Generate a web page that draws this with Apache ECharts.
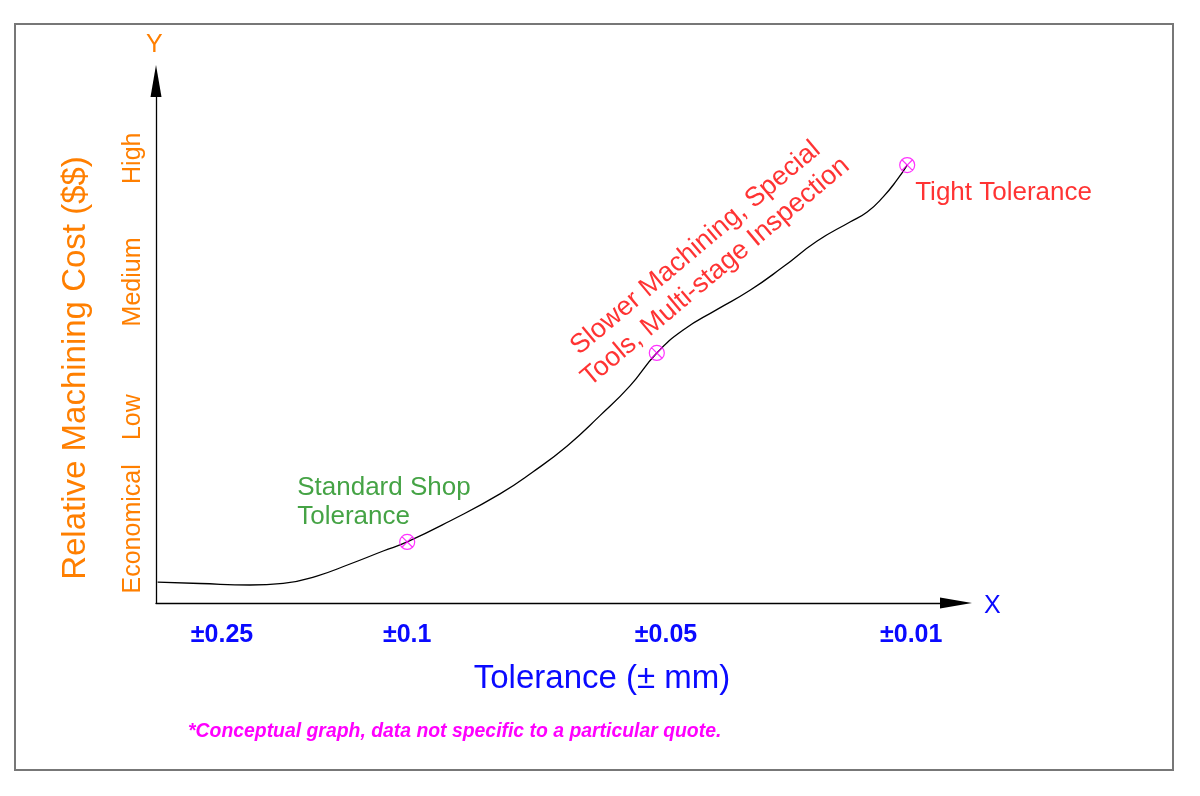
<!DOCTYPE html>
<html>
<head>
<meta charset="utf-8">
<title>Relative Machining Cost vs Tolerance</title>
<style>html, body {margin: 0; padding: 0; background: #fff;}</style>
<script src="https://cdn.jsdelivr.net/npm/echarts@6/dist/echarts.min.js"></script>
</head>
<body>
<div id="main" style="width: 1200px; height: 796px;"></div>
<script type="text/javascript">
// tick positions on a 0-100 conceptual scale
var xTickValues = [8.25, 31.4, 63.75, 94.4];
var xTickLabels = ['±0.25', '±0.1', '±0.05', '±0.01'];
var yTickValues = [14.2, 35.6, 61.5, 85.2];
var yTickLabels = ['Economical', 'Low', 'Medium', 'High'];

// cost curve
var curveX = [0.2, 5.5, 11.75, 15.9, 20.1, 24.25, 28.4, 31.4, 36.75, 43.0, 47.1, 51.4, 55.5, 59.25, 62.6,
  65.9, 70.1, 74.25, 78.4, 82.6, 86.75, 88.9, 90.9, 92.6, 93.9];
var curveY = [4.0, 3.74, 3.45, 3.74, 5.17, 7.47, 9.96, 11.7, 15.71, 20.9, 25.1, 30.1, 35.9, 41.6, 47.9,
  52.3, 56.2, 59.9, 64.4, 69.3, 73.0, 74.9, 77.8, 81.0, 83.9];

// highlighted points
var markerX = [31.4, 62.6, 93.9];
var markerY = [11.7, 47.9, 83.9];
var markerNames = ['Standard Shop\nTolerance', 'Slower Machining, Special\nTools, Multi-stage Inspection', 'Tight Tolerance'];

var font = "'Liberation Sans', Arial, sans-serif";
var orange = '#ff7f00';
var blue = '#0a0aff';

var markerLabels = [
  {color: '#168c16', fontSize: 26, lineHeight: 29, align: 'left', verticalAlign: 'middle', offset: [-110, -40]},
  {color: '#ff0000', fontSize: 27, lineHeight: 31, align: 'center', verticalAlign: 'middle', rotate: 40, offset: [97, -40]},
  {color: '#ff0000', fontSize: 26, align: 'left', verticalAlign: 'middle', offset: [8, 28]}
];

var crossCircle = 'path://M0,10 A10,10 0 1,1 20,10 A10,10 0 1,1 0,10 Z M2.9,2.9 L17.1,17.1 M17.1,2.9 L2.9,17.1';

var chartDom = document.getElementById('main');
var myChart = echarts.init(chartDom);

var option = {
  animation: false,
  backgroundColor: '#fff',
  grid: {left: 156, top: 81, width: 800, height: 522, containLabel: false},
  xAxis: {
    type: 'value',
    min: 0,
    max: 100,
    name: 'Tolerance (± mm)',
    nameLocation: 'middle',
    nameGap: 59,
    nameTextStyle: {color: blue, fontSize: 33, fontFamily: font, padding: [0, 0, 0, 92]},
    axisLine: {show: true, lineStyle: {color: '#000', width: 1.3}, symbol: ['none', 'triangle'], symbolSize: [11, 32]},
    axisTick: {show: false},
    splitLine: {show: false},
    axisLabel: {
      customValues: xTickValues,
      margin: 20,
      color: blue,
      fontSize: 25,
      fontWeight: 'bold',
      fontFamily: font,
      formatter: function (v) { return xTickLabels[xTickValues.indexOf(v)]; }
    }
  },
  yAxis: {
    type: 'value',
    min: 0,
    max: 100,
    name: 'Relative Machining Cost ($$)',
    nameLocation: 'middle',
    nameGap: 64,
    nameRotate: 90,
    nameTextStyle: {color: orange, fontSize: 33, fontFamily: font, padding: [0, 52, 0, 0]},
    axisLine: {show: true, lineStyle: {color: '#000', width: 1.3}, symbol: ['none', 'triangle'], symbolSize: [11, 32]},
    axisTick: {show: false},
    splitLine: {show: false},
    axisLabel: {
      customValues: yTickValues,
      rotate: 90,
      margin: 10,
      color: orange,
      fontSize: 25,
      fontFamily: font,
      formatter: function (v) { return yTickLabels[yTickValues.indexOf(v)]; }
    }
  },
  graphic: [
    {type: 'rect', silent: true, shape: {x: 15, y: 24, width: 1158, height: 746},
      style: {fill: 'none', stroke: '#777', lineWidth: 2}},
    {type: 'text', left: 146, top: 33, style: {text: 'Y', fill: orange, font: '25px ' + font}},
    {type: 'text', left: 984, top: 594, style: {text: 'X', fill: blue, font: '25px ' + font}},
    {type: 'text', left: 188, top: 722, style: {text: '*Conceptual graph, data not specific to a particular quote.',
      fill: '#ff00ff', font: 'italic bold 19.4px ' + font}}
  ],
  series: [
    {
      type: 'line',
      data: curveX.map(function (x, i) { return [x, curveY[i]]; }),
      smooth: 0.5,
      showSymbol: false,
      lineStyle: {color: '#000', width: 1.3}
    },
    {
      type: 'scatter',
      symbol: crossCircle,
      symbolSize: 15,
      z: 5,
      itemStyle: {color: 'none', borderColor: '#ff00ff', borderWidth: 1.2},
      data: markerX.map(function (x, i) {
        var l = markerLabels[i];
        return {
          value: [x, markerY[i]],
          name: markerNames[i],
          label: Object.assign({show: true, position: 'inside', fontFamily: font, formatter: '{b}'}, l)
        };
      })
    }
  ]
};
myChart.setOption(option);
</script>
</body>
</html>
